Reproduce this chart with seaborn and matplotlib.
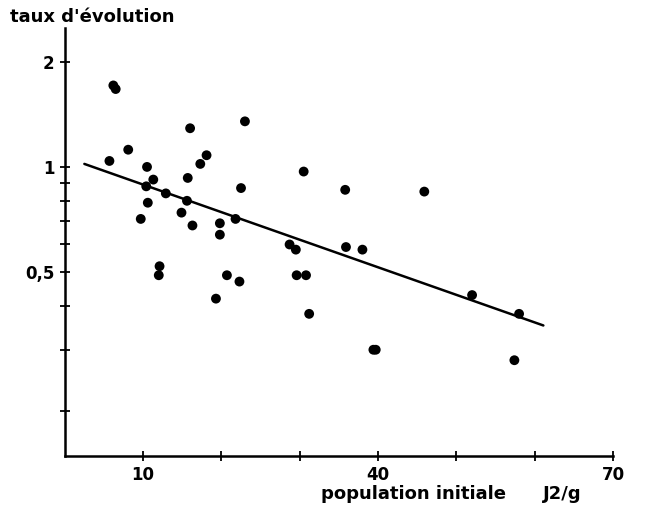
import matplotlib
matplotlib.use("Agg")
import matplotlib.pyplot as plt
import numpy as np
import pandas as pd
import seaborn as sns

# data (x: initial population J2/g, y: evolution rate, log scale)
pop_init = [6.2, 6.5, 5.7, 8.1, 10.5, 11.3, 10.4, 10.6, 9.7, 12.9,
            16.0, 18.1, 17.3, 15.7, 15.6, 14.9, 16.3, 19.8, 19.8, 12.1,
            12.0, 23.0, 22.5, 21.8, 20.7, 22.3, 19.3, 28.7, 29.5, 29.6,
            30.8, 31.2, 30.5, 35.8, 35.9, 38.0, 39.4, 39.7, 45.9, 52.0,
            58.0, 57.4]
taux_evol = [1.71, 1.67, 1.04, 1.12, 1.00, 0.92, 0.88, 0.79, 0.71, 0.84,
             1.29, 1.08, 1.02, 0.93, 0.80, 0.74, 0.68, 0.69, 0.64, 0.52,
             0.49, 1.35, 0.87, 0.71, 0.49, 0.47, 0.42, 0.60, 0.58, 0.49,
             0.49, 0.38, 0.97, 0.86, 0.59, 0.58, 0.30, 0.30, 0.85, 0.43,
             0.38, 0.28]

# regression line end points
fit_x = [2.5, 61.1]
fit_y = [1.02, 0.352]

y_ticks = [0.2, 0.3, 0.4, 0.5, 0.6, 0.7, 0.8, 0.9, 1, 2]
y_labels = ["", "", "", "0,5", "", "", "", "", "1", "2"]
x_ticks = [10, 20, 30, 40, 50, 60, 70]
x_labels = ["10", "", "", "40", "", "", "70"]

df = pd.DataFrame({"pop": pop_init, "taux": taux_evol})
df_fit = pd.DataFrame({"pop": fit_x, "taux": fit_y})

sns.set_theme(style="white")
plt.rcParams["font.family"] = ["DejaVu Sans"]
plt.rcParams["text.color"] = "black"

fig = plt.figure(figsize=(6.61, 5.05), dpi=100)
ax = fig.add_axes([0.098, 0.097, 0.8295, 0.848])

sns.scatterplot(data=df, x="pop", y="taux", ax=ax, color="black",
                s=50, edgecolor="none", legend=False)
sns.lineplot(data=df_fit, x="pop", y="taux", ax=ax, color="black", lw=1.8)

ax.set_yscale("log")
ax.set_xlim(0, 70)
ax.set_ylim(0.149, 2.5)

ax.yaxis.set_major_locator(matplotlib.ticker.FixedLocator(y_ticks))
ax.yaxis.set_major_formatter(matplotlib.ticker.FixedFormatter(y_labels))
ax.yaxis.set_minor_locator(matplotlib.ticker.NullLocator())
ax.set_xticks(x_ticks)
ax.set_xticklabels(x_labels)

ax.tick_params(bottom=True, left=True, direction="inout", length=7,
               width=1.3, color="black", labelcolor="black",
               labelsize=12, pad=4)
for lab in ax.get_xticklabels() + ax.get_yticklabels():
    lab.set_fontweight("bold")

sns.despine(ax=ax)
for side in ["left", "bottom"]:
    ax.spines[side].set_linewidth(1.8)
    ax.spines[side].set_color("black")

ax.set_xlabel("")
ax.set_ylabel("")

fig.text(0.015, 0.967, "taux d'évolution", fontsize=13, fontweight="bold",
         va="center", ha="left", color="black")
fig.text(0.485, 0.022, "population initiale", fontsize=13, fontweight="bold",
         va="center", ha="left", color="black")
fig.text(0.822, 0.022, "J2/g", fontsize=13, fontweight="bold",
         va="center", ha="left", color="black")

fig.savefig("out.png", dpi=100)
